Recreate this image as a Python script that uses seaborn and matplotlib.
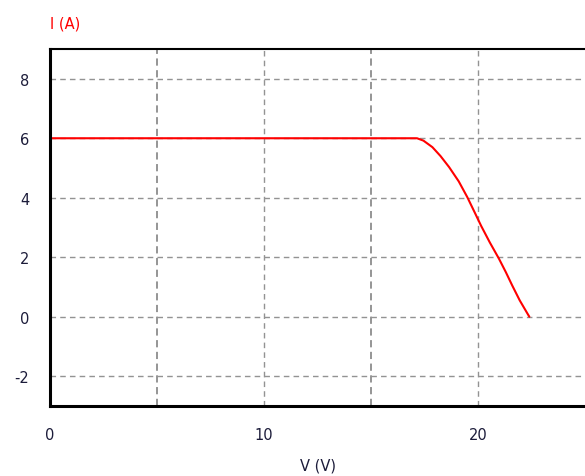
import matplotlib
matplotlib.use("Agg")

import matplotlib.pyplot as plt
import seaborn as sns

# --- data ---
voltage = [0.0, 5.0, 10.0, 15.0, 17.15, 17.45, 17.87, 18.25, 18.65, 19.1,
           19.5, 19.85, 20.15, 20.55, 20.98, 21.3, 21.6, 21.95, 22.3, 22.4]
current = [6.0, 6.0, 6.0, 6.0, 6.0, 5.92, 5.7, 5.4, 5.03, 4.55,
           4.02, 3.5, 3.05, 2.5, 1.95, 1.5, 1.05, 0.55, 0.12, 0.0]

x_ticks = [0, 10, 20]
y_ticks = [-2, 0, 2, 4, 6, 8]
x_grid_major = [5, 15]
x_grid_minor = [10, 20]

sns.set_theme(style="white")
plt.rcParams["font.family"] = ["DejaVu Sans"]
plt.rcParams["axes.unicode_minus"] = False

fig = plt.figure(figsize=(5.85, 4.77), dpi=100)
ax = fig.add_axes([50 / 585, 70 / 477, 535 / 585, 357 / 477])

sns.lineplot(x=voltage, y=current, ax=ax, color="#ff0000", linewidth=1.5,
             sort=False, estimator=None)

ax.set_xlim(0, 25)
ax.set_ylim(-3, 9)
ax.set_xticks(x_ticks)
ax.set_yticks(y_ticks)
ax.tick_params(length=0, labelsize=10.5, colors="#1c1c3a", pad=15)

for v in x_grid_major:
    ax.axvline(v, color="#8c8c8c", linestyle=(0, (4, 2.5)), linewidth=1.3, zorder=0)
for v in x_grid_minor:
    ax.axvline(v, color="#939393", linestyle=(0, (4, 3)), linewidth=1.0, zorder=0)
for i in y_ticks:
    ax.axhline(i, color="#939393", linestyle=(0, (4, 3)), linewidth=1.0, zorder=0)

for side in ["left", "bottom", "top"]:
    ax.spines[side].set_color("black")
    ax.spines[side].set_linewidth(2.2)
ax.spines["top"].set_linewidth(1.5)
ax.spines["right"].set_visible(False)

ax.set_ylabel("")
ax.set_xlabel("V (V)", fontsize=10.5, color="#1c1c3a", labelpad=11)
fig.text(50 / 585, 1 - 24 / 477, "I (A)", color="#ff0000", fontsize=10.5,
         va="center", ha="left")

fig.savefig("out.png", dpi=100)
plt.close(fig)
